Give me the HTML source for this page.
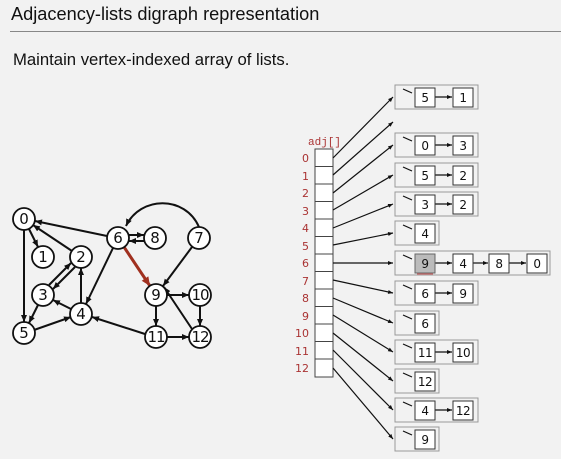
<!DOCTYPE html>
<html><head><meta charset="utf-8"><style>
html,body{margin:0;padding:0;background:#f2f2f2;}
body{width:561px;height:459px;overflow:hidden;position:relative;font-family:"Liberation Sans","DejaVu Sans",sans-serif;}
.t{position:absolute;left:11px;top:4px;font-size:18.2px;color:#111;}
.hr{position:absolute;left:10px;right:0;top:31px;height:1px;background:#888;}
.s{position:absolute;left:13px;top:50px;font-size:16.7px;color:#111;}
svg{position:absolute;left:0;top:0;}
</style></head><body>
<div class="t">Adjacency-lists digraph representation</div>
<div class="hr"></div>
<div class="s">Maintain vertex-indexed array of lists.</div>
<svg width="561" height="459" viewBox="0 0 561 459" font-family="DejaVu Sans, Liberation Sans, sans-serif">
<defs>
<marker id="a" markerUnits="userSpaceOnUse" markerWidth="8" markerHeight="8" refX="7" refY="4" orient="auto"><path d="M0,1 L7,4 L0,7 z" fill="#111"/></marker>
<marker id="r" markerUnits="userSpaceOnUse" markerWidth="10" markerHeight="10" refX="9" refY="5" orient="auto"><path d="M0,1 L9,5 L0,9 z" fill="#a0301f"/></marker>
<marker id="s" markerUnits="userSpaceOnUse" markerWidth="6" markerHeight="6" refX="5" refY="3" orient="auto"><path d="M0,1 L5,3 L0,5 z" fill="#111"/></marker>
</defs>
<g stroke="#111" stroke-width="2" fill="none" marker-end="url(#a)">
<line x1="29" y1="229" x2="38" y2="247"/>
<line x1="24" y1="230" x2="24" y2="322"/>
<line x1="107" y1="236" x2="35" y2="221"/>
<line x1="72" y1="251" x2="33" y2="225"/>
<line x1="75" y1="267" x2="53" y2="289"/>
<line x1="49" y1="285" x2="71" y2="263"/>
<line x1="81" y1="303" x2="81" y2="268"/>
<line x1="71" y1="309" x2="53" y2="300"/>
<line x1="38" y1="305" x2="29" y2="323"/>
<line x1="34" y1="330" x2="71" y2="317"/>
<line x1="113" y1="248" x2="86" y2="304"/>
<line x1="129" y1="235" x2="144" y2="235"/>
<line x1="144" y1="241" x2="129" y2="241"/>
<path d="M199,227 C185,195 140,196 126,226"/>
<line x1="192" y1="247" x2="163" y2="286"/>
<line x1="167" y1="295" x2="189" y2="295"/>
<line x1="156" y1="306" x2="156" y2="326"/>
<line x1="200" y1="306" x2="200" y2="326"/>
<line x1="167" y1="337" x2="189" y2="337"/>
<line x1="192" y1="329" x2="164" y2="287"/>
<line x1="145" y1="334" x2="92" y2="317"/>
</g>
<line x1="124" y1="247" x2="150" y2="286" stroke="#a0301f" stroke-width="3" marker-end="url(#r)"/>
<g stroke="#111" stroke-width="1.8" fill="#fff">
<circle cx="24" cy="219" r="11"/><circle cx="43" cy="257" r="11"/><circle cx="81" cy="257" r="11"/>
<circle cx="43" cy="295" r="11"/><circle cx="81" cy="314" r="11"/><circle cx="24" cy="333" r="11"/>
<circle cx="118" cy="238" r="11"/><circle cx="155" cy="238" r="11"/><circle cx="199" cy="238" r="11"/>
<circle cx="156" cy="295" r="11"/><circle cx="200" cy="295" r="11"/><circle cx="156" cy="337" r="11"/><circle cx="200" cy="337" r="11"/>
</g>
<g font-size="15" fill="#111" text-anchor="middle">
<text x="24" y="224">0</text><text x="43" y="262">1</text><text x="81" y="262">2</text>
<text x="43" y="300">3</text><text x="81" y="319">4</text><text x="24" y="338">5</text>
<text x="118" y="243">6</text><text x="155" y="243">8</text><text x="199" y="243">7</text>
<text x="156" y="300">9</text><text x="200" y="300" letter-spacing="-1">10</text><text x="156" y="342" letter-spacing="-1">11</text><text x="200" y="342" letter-spacing="-1">12</text>
</g>
<text x="308" y="145" font-family="Liberation Mono, monospace" font-size="11" fill="#a33">adj[]</text>
<rect x="315" y="149" width="18" height="228" stroke="#444" stroke-width="1" fill="#fff"/>
<g stroke="#444" stroke-width="1">
<line x1="315" y1="166.5" x2="333" y2="166.5"/><line x1="315" y1="184" x2="333" y2="184"/><line x1="315" y1="201.5" x2="333" y2="201.5"/>
<line x1="315" y1="219" x2="333" y2="219"/><line x1="315" y1="236.5" x2="333" y2="236.5"/><line x1="315" y1="254" x2="333" y2="254"/>
<line x1="315" y1="271.5" x2="333" y2="271.5"/><line x1="315" y1="289" x2="333" y2="289"/><line x1="315" y1="306.5" x2="333" y2="306.5"/>
<line x1="315" y1="324" x2="333" y2="324"/><line x1="315" y1="341.5" x2="333" y2="341.5"/><line x1="315" y1="359" x2="333" y2="359"/>
</g>
<g font-size="11" fill="#a33" text-anchor="end">
<text x="309" y="162">0</text><text x="309" y="180">1</text><text x="309" y="197">2</text><text x="309" y="215">3</text>
<text x="309" y="232">4</text><text x="309" y="250">5</text><text x="309" y="267">6</text><text x="309" y="285">7</text>
<text x="309" y="302">8</text><text x="309" y="320">9</text><text x="309" y="337">10</text><text x="309" y="355">11</text><text x="309" y="372">12</text>
</g>
<g stroke="#111" stroke-width="1.2" marker-end="url(#s)">
<line x1="333" y1="158" x2="393" y2="97"/>
<line x1="333" y1="175" x2="393" y2="122"/>
<line x1="333" y1="193" x2="393" y2="145"/>
<line x1="333" y1="210" x2="393" y2="175"/>
<line x1="333" y1="228" x2="393" y2="204"/>
<line x1="333" y1="245" x2="393" y2="233"/>
<line x1="333" y1="263" x2="393" y2="263"/>
<line x1="333" y1="280" x2="393" y2="293"/>
<line x1="333" y1="298" x2="393" y2="323"/>
<line x1="333" y1="315" x2="393" y2="352"/>
<line x1="333" y1="333" x2="393" y2="381"/>
<line x1="333" y1="350" x2="393" y2="410"/>
<line x1="333" y1="368" x2="393" y2="439"/>
</g>
<g stroke="#999" stroke-width="1" fill="#f2f2f2">
<rect x="395" y="85" width="83" height="24"/>
<rect x="395" y="133" width="83" height="24"/>
<rect x="395" y="163" width="83" height="24"/>
<rect x="395" y="192" width="83" height="24"/>
<rect x="395" y="221" width="44" height="24"/>
<rect x="395" y="251" width="155" height="24"/>
<rect x="395" y="281" width="83" height="24"/>
<rect x="395" y="311" width="44" height="24"/>
<rect x="395" y="340" width="83" height="24"/>
<rect x="395" y="369" width="44" height="24"/>
<rect x="395" y="398" width="83" height="24"/>
<rect x="395" y="427" width="44" height="24"/>
</g>
<g stroke="#111" stroke-width="1.2">
<line x1="403" y1="89" x2="412" y2="93"/><line x1="403" y1="137" x2="412" y2="141"/><line x1="403" y1="167" x2="412" y2="171"/>
<line x1="403" y1="196" x2="412" y2="200"/><line x1="403" y1="225" x2="412" y2="229"/><line x1="403" y1="255" x2="412" y2="259"/>
<line x1="403" y1="285" x2="412" y2="289"/><line x1="403" y1="315" x2="412" y2="319"/><line x1="403" y1="344" x2="412" y2="348"/>
<line x1="403" y1="373" x2="412" y2="377"/><line x1="403" y1="402" x2="412" y2="406"/><line x1="403" y1="431" x2="412" y2="435"/>
</g>
<g stroke="#111" stroke-width="1.2" marker-end="url(#s)">
<line x1="435" y1="97" x2="452" y2="97"/><line x1="435" y1="145" x2="452" y2="145"/><line x1="435" y1="175" x2="452" y2="175"/>
<line x1="435" y1="204" x2="452" y2="204"/><line x1="435" y1="263" x2="452" y2="263"/><line x1="473" y1="263" x2="488" y2="263"/>
<line x1="509" y1="263" x2="526" y2="263"/><line x1="435" y1="293" x2="452" y2="293"/><line x1="435" y1="352" x2="452" y2="352"/>
<line x1="435" y1="410" x2="452" y2="410"/>
</g>
<g stroke="#333" stroke-width="1" fill="#fff">
<rect x="415" y="88" width="20" height="19"/><rect x="453" y="88" width="20" height="19"/>
<rect x="415" y="136" width="20" height="19"/><rect x="453" y="136" width="20" height="19"/>
<rect x="415" y="166" width="20" height="19"/><rect x="453" y="166" width="20" height="19"/>
<rect x="415" y="195" width="20" height="19"/><rect x="453" y="195" width="20" height="19"/>
<rect x="415" y="224" width="20" height="19"/>
<rect x="415" y="254" width="20" height="19" fill="#bbb" stroke="#666"/><rect x="453" y="254" width="20" height="19"/><rect x="489" y="254" width="20" height="19"/><rect x="527" y="254" width="20" height="19"/>
<rect x="415" y="284" width="20" height="19"/><rect x="453" y="284" width="20" height="19"/>
<rect x="415" y="314" width="20" height="19"/>
<rect x="415" y="343" width="20" height="19"/><rect x="453" y="343" width="20" height="19"/>
<rect x="415" y="372" width="20" height="19"/>
<rect x="415" y="401" width="20" height="19"/><rect x="453" y="401" width="20" height="19"/>
<rect x="415" y="430" width="20" height="19"/>
</g>
<line x1="417" y1="274" x2="433" y2="274" stroke="#d66" stroke-width="1"/>
<g font-size="12" fill="#111" text-anchor="middle" letter-spacing="-0.5">
<text x="425" y="102">5</text><text x="463" y="102">1</text>
<text x="425" y="150">0</text><text x="463" y="150">3</text>
<text x="425" y="180">5</text><text x="463" y="180">2</text>
<text x="425" y="209">3</text><text x="463" y="209">2</text>
<text x="425" y="238">4</text>
<text x="425" y="268">9</text><text x="463" y="268">4</text><text x="499" y="268">8</text><text x="537" y="268">0</text>
<text x="425" y="298">6</text><text x="463" y="298">9</text>
<text x="425" y="328">6</text>
<text x="425" y="357">11</text><text x="463" y="357">10</text>
<text x="425" y="386">12</text>
<text x="425" y="415">4</text><text x="463" y="415">12</text>
<text x="425" y="444">9</text>
</g>
</svg>
</body></html>
